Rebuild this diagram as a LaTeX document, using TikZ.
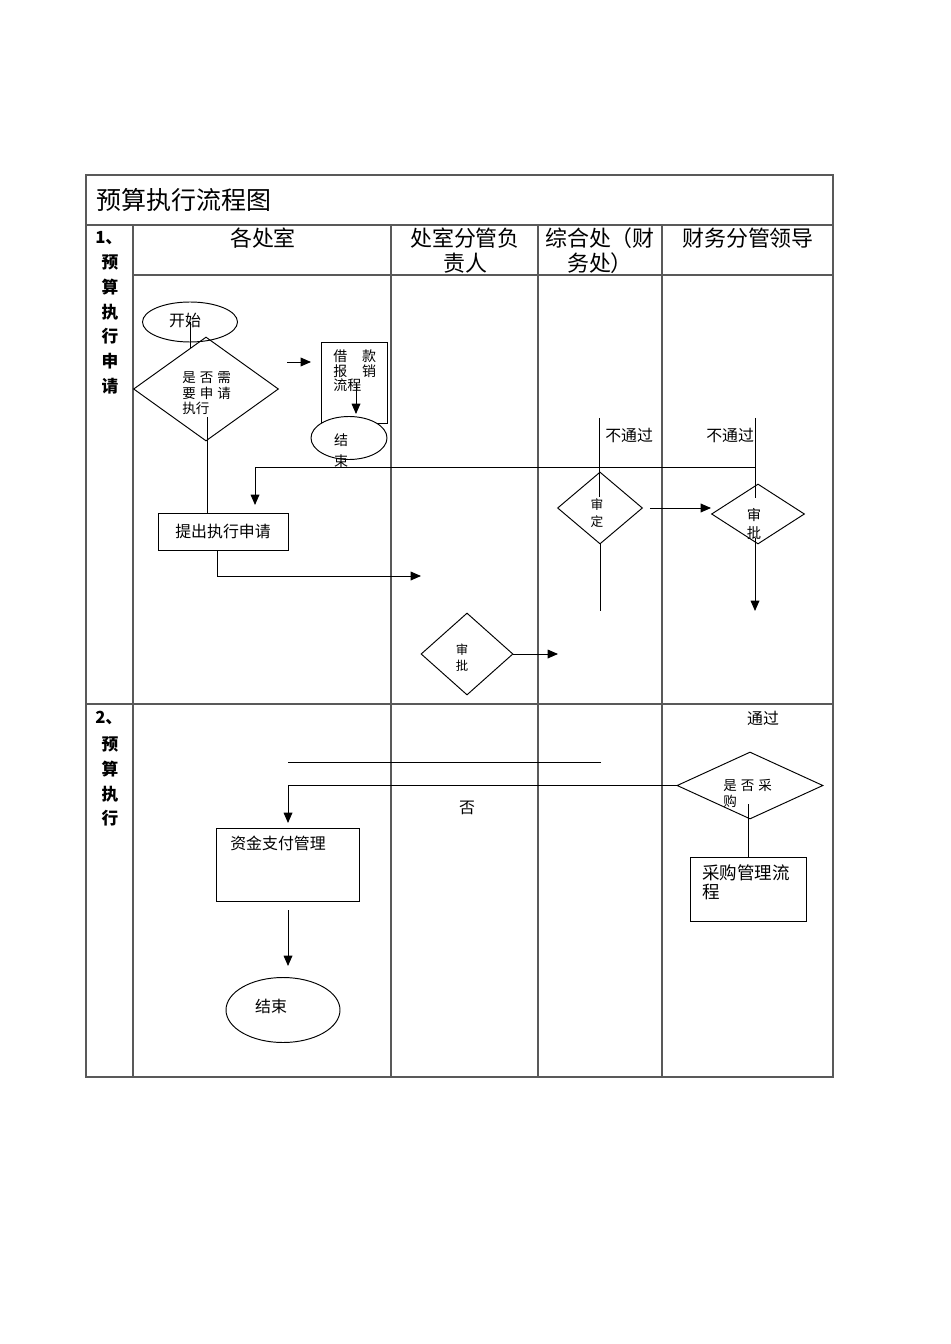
\documentclass[tikz,border=0pt]{standalone}
\usepackage{fontspec}
\setmainfont{Noto Sans CJK SC}
\usetikzlibrary{shapes.geometric}
\usetikzlibrary{arrows.meta}
\newlength{\pxu}
\setlength{\pxu}{0.0221cm}
\tikzset{
	grid/.style={draw=black!65, line width=0.7pt},
	flow/.style={draw=black, line width=0.6pt},
	arr/.style={flow, -{Triangle[length=6.5pt,width=5.5pt]}},
	term/.style={ellipse, draw, fill=white, line width=0.6pt, inner sep=0pt},
	decide/.style={diamond, draw, line width=0.6pt, inner sep=0pt},
	proc/.style={rectangle, draw, line width=0.6pt, inner sep=0pt},
	ttl/.style={inner sep=0pt, font=\fontsize{15.7}{18}\selectfont},
	hd/.style={inner sep=0pt, align=center, font=\fontsize{13.8}{15.7}\selectfont},
	sec/.style={inner sep=0pt, align=center, font=\bfseries\fontsize{10.5}{15.7}\selectfont},
	lbl/.style={inner sep=0pt, align=left, font=\fontsize{10}{12}\selectfont},
	tiny/.style={inner sep=0pt, align=left, font=\fontsize{8.5}{10}\selectfont}
}

\begin{document}
\begin{tikzpicture}[x=0.0221cm, y=-0.0221cm]
	\useasboundingbox (0,0) rectangle (950,1344);
	% table
	\draw[grid, line width=1pt] (86,175) rectangle (833,1077);
	\draw[grid] (86,225) -- (833,225);
	\draw[grid] (133,275) -- (833,275);
	\draw[grid] (86,704) -- (833,704);
	\draw[grid] (133,225) -- (133,1077);
	\draw[grid] (391,225) -- (391,1077);
	\draw[grid] (538,225) -- (538,1077);
	\draw[grid] (662,225) -- (662,1077);
	\node[ttl, anchor=west] (title) at (96,200) {预算执行流程图};
	\node[hd] (lane1) at (263,238) {各处室};
	\node[hd] (lane2) at (465,251) {处室分管负\\责人};
	\node[hd] (lane3) at (600,251) {综合处（财\\务处）};
	\node[hd] (lane4) at (748,238) {财务分管领导};
	\node[sec, anchor=west] (no1) at (95,238) {1、};
	\node[sec, anchor=north] (part1) at (110,254) {预\\算\\执\\行\\申\\请};
	\node[sec, anchor=west] (no2) at (95,718) {2、};
	\node[sec, anchor=north] (part2) at (110,736) {预\\算\\执\\行};

	% 1. apply
	\node[term, minimum width=95\pxu, minimum height=40\pxu] (start) at (190,322) {};
	\node[lbl] (startt) at (185,320) {开始};
	\node[decide, minimum width=145\pxu, minimum height=104\pxu] (need) at (206,389) {};
	\node[tiny, anchor=north west] (needt) at (182,371) {是\hspace{0.3em}否\hspace{0.3em}需\\要\hspace{0.3em}申\hspace{0.3em}请\\执行};
	\draw[flow] (start.center) -- ++(0,26);
	\coordinate (p1) at (287,362);
	\coordinate (p2) at (311,362);
	\draw[arr] (p1) -- (p2);
	\node[proc, minimum width=66\pxu, minimum height=81\pxu] (reim) at (354,382.5) {};
	\node[tiny, anchor=north west, font=\fontsize{8.8}{9.4}\selectfont] (reimt) at (333,349) {借\hspace{1.05em}款\\报\hspace{1.05em}销\\流程};
	\node[term, minimum width=76\pxu, minimum height=43\pxu] (end1) at (349,438) {};
	\node[tiny, align=center, font=\fontsize{8.8}{13}\selectfont] (end1t) at (341,451) {结\\束};
	\coordinate (r1) at (356,383);
	\draw[arr] (r1) -- ([yshift=2\pxu]r1 |- end1.north);
	\node[proc, minimum width=130\pxu, minimum height=37\pxu, font=\fontsize{10}{12}\selectfont] (apply) at (223,531.5) {提出执行申请};
	\coordinate (n1) at (207,417);
	\draw[flow] (n1) -- (n1 |- apply.north);
	\coordinate (a1) at (217,550);
	\coordinate (a2) at (421,576);
	\draw[arr] (a1) |- (a2);

	\node[decide, minimum width=92\pxu, minimum height=82\pxu] (appr1) at (467,654) {};
	\node[tiny, align=center, font=\fontsize{7.8}{10}\selectfont] (appr1t) at (462,658) {审\\批};
	\coordinate (c1) at (558,654);
	\draw[arr] (appr1.east) -- (c1);

	\node[decide, minimum width=85\pxu, minimum height=72\pxu] (audit) at (600,508) {};
	\node[tiny, align=center, font=\fontsize{8}{10.6}\selectfont] (auditt) at (597,513) {审\\定};
	\node[decide, minimum width=93\pxu, minimum height=60\pxu] (appr2) at (758,514) {};
	\node[tiny, align=center, font=\fontsize{9}{11.3}\selectfont] (appr2t) at (754,524) {审\\批};
	\draw[arr] ([xshift=7\pxu]audit.east) -- (appr2.west |- audit.east);
	\draw[flow] (audit.south) -- ++(0,67);
	\coordinate (d1) at (755,538);
	\coordinate (d2) at (755,611);
	\draw[arr] (d1) -- (d2);

	% not passed
	\coordinate (b1) at (599,418);
	\coordinate (b2) at (755,418);
	\draw[flow] (b1) -- ++(0,79);
	\draw[flow] (b2) -- ++(0,80);
	\node[lbl, anchor=west] (fail1) at (605,435) {不通过};
	\node[lbl, anchor=west] (fail2) at (706,435) {不通过};
	\coordinate (bk) at (755,467);
	\coordinate (bkend) at (255,505);
	\draw[arr] (bk) -| (bkend);

	% 2. execute
	\node[lbl] (pass) at (763,718) {通过};
	\node[decide, minimum width=146\pxu, minimum height=67\pxu] (buy) at (750,785.5) {};
	\node[tiny, anchor=north west] (buyt) at (723,779) {是\hspace{0.3em}否\hspace{0.3em}采\\购};
	\node[proc, minimum width=116\pxu, minimum height=64\pxu] (buyproc) at (748,889) {};
	\node[tiny, anchor=north west, font=\fontsize{11}{11.9}\selectfont] (buyproct) at (702,864) {采购管理流\\程};
	\coordinate (g1) at (748,804);
	\draw[flow] (g1) -- (g1 |- buyproc.north);
	\coordinate (e1) at (601,762);
	\coordinate (e2) at (288,762);
	\draw[flow] (e1) -- (e2);
	\coordinate (f1) at (288,823);
	\draw[arr] (buy.west) -| (f1);
	\node[lbl] (no) at (467,808) {否};
	\node[proc, minimum width=143\pxu, minimum height=73\pxu] (fund) at (287.5,864.5) {};
	\node[lbl, anchor=west] (fundt) at (230,843) {资金支付管理};
	\coordinate (h1) at (288,910);
	\coordinate (h2) at (288,966);
	\draw[arr] (h1) -- (h2);
	\node[term, minimum width=114\pxu, minimum height=65\pxu] (end2) at (283,1010) {};
	\node[lbl] (end2t) at (271,1006) {结束};
\end{tikzpicture}
\end{document}
